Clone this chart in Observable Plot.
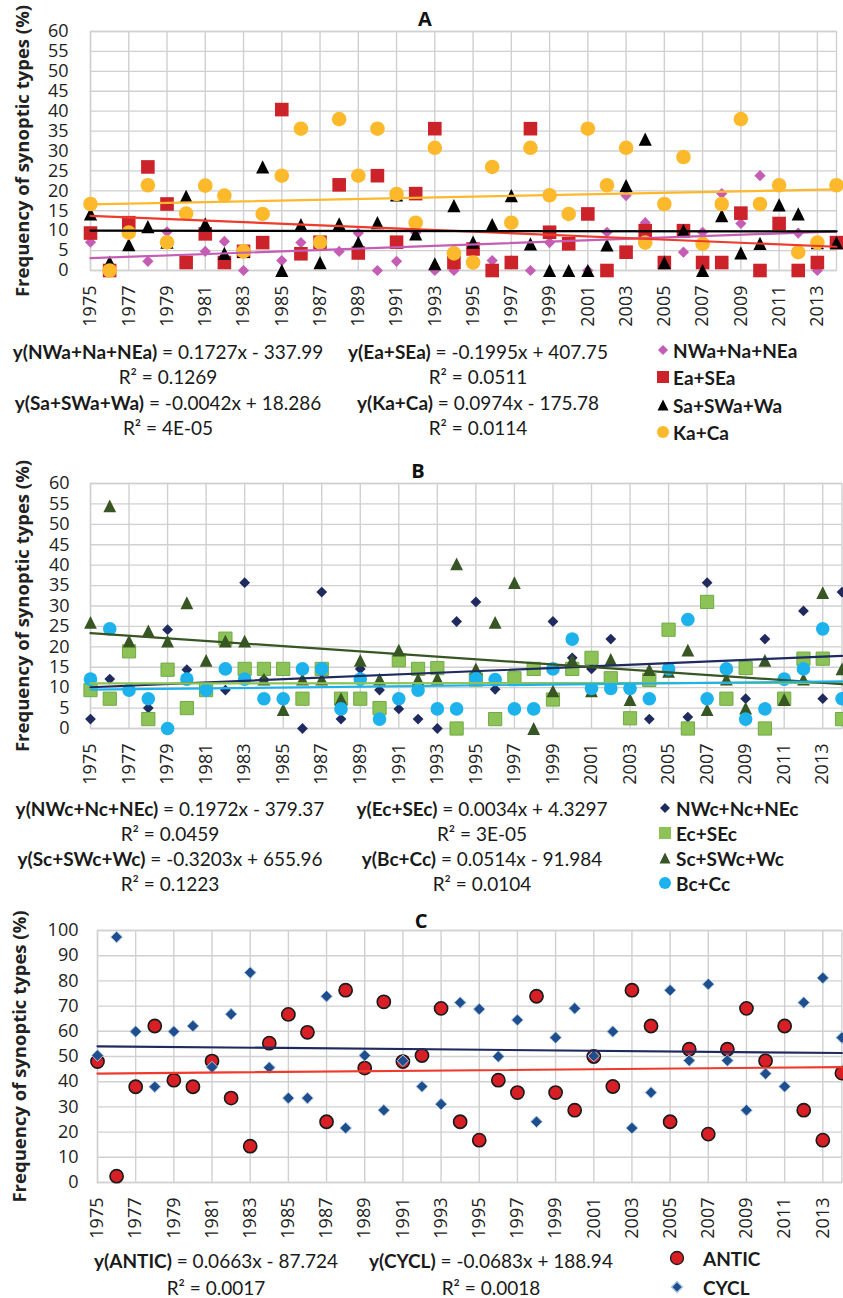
<!DOCTYPE html>
<html><head><meta charset="utf-8">
<script src="https://cdn.jsdelivr.net/npm/d3@7"></script>
<script src="https://cdn.jsdelivr.net/npm/@observablehq/plot@0.6"></script>
<style>
html,body{margin:0;padding:0;background:#fff;overflow:hidden;}
#fig{position:relative;width:843px;height:1298px;overflow:hidden;}
.abs{position:absolute;white-space:nowrap;}
.title{font-family:"Open Sans";font-weight:700;font-size:20px;color:#111;transform:translate(-50%,-50%);}
.eq{font-family:Lato;font-size:19px;color:#1a1a1a;transform:translate(-50%,-50%);}
.eq b{font-weight:700;}
.leg{font-family:Lato;font-weight:700;font-size:19px;color:#1a1a1a;transform:translateY(-50%);}
.sw{position:absolute;overflow:visible;}
</style></head><body><div id="fig"></div>
<script>
// ---------- categories & ticks ----------
const years = [1975,1976,1977,1978,1979,1980,1981,1982,1983,1984,1985,1986,1987,1988,1989,1990,1991,1992,1993,1994,1995,1996,1997,1998,1999,2000,2001,2002,2003,2004,2005,2006,2007,2008,2009,2010,2011,2012,2013,2014];
const xTicks = [1975,1977,1979,1981,1983,1985,1987,1989,1991,1993,1995,1997,1999,2001,2003,2005,2007,2009,2011,2013];
const yTicksAB = [0,5,10,15,20,25,30,35,40,45,50,55,60];
const yTicksC = [0,10,20,30,40,50,60,70,80,90,100];
const yLabel = "Frequency of synoptic types (%)";

// ---------- Panel A (anticyclonic types) ----------
const namesA = ["NWa+Na+NEa","Ea+SEa","Sa+SWa+Wa","Ka+Ca"];
const nwa = [7.1,0,9.5,2.3,9.7,2.4,4.8,7.3,0,7,2.5,7,7.1,4.8,9.4,0,2.3,9.5,0,0,2.4,2.5,2.4,0,7,7,0,9.6,18.8,12,2.4,4.6,9.6,19.3,11.8,23.8,12,9.4,0,7];
const ea  = [9.4,0,12,26,16.7,2,9.2,2,4.8,7,40.4,4.2,7.1,21.5,4.4,23.8,7.1,19.3,35.6,2,5.4,0,2,35.6,9.6,6.7,14.2,0,4.6,10,2,10,2,2,14.4,0,11.8,0,2,7];
const sa  = [14.2,2.1,6.5,11,7.1,18.6,11.7,4.3,4.8,26,0,11.5,2,11.7,7,12,19,9.2,1.7,16.3,7.1,11.5,18.8,6.7,0,0,0,6.4,21.3,33,2,10,0,13.8,4.4,6.8,16.5,14.2,7,7];
const ka  = [16.7,0,9.5,21.4,7.1,14.3,21.3,18.8,4.8,14.2,23.8,35.6,7.1,38,23.8,35.6,19.2,12,30.8,4.3,2,26,12,30.8,18.9,14.2,35.6,21.4,30.8,7,16.7,28.5,6.7,16.7,38,16.7,21.4,4.6,7,21.4];
const slopesA = [0.1727,-0.1995,-0.0042,0.0974];
const interceptsA = [-337.99,407.75,18.286,-175.78];
const r2A = ["0.1269","0.0511","4E-05","0.0114"];

// ---------- Panel B (cyclonic types) ----------
const namesB = ["NWc+Nc+NEc","Ec+SEc","Sc+SWc+Wc","Bc+Cc"];
const nwc = [2.3,12.1,9.5,5,24.2,14.4,9.5,9.4,35.7,12,7,0,33.4,2.3,14.6,9.4,4.8,2.3,0,26.2,31,9.6,12,4.8,26.2,17.3,14.6,21.9,2.5,2.3,24,2.8,35.7,14.5,7.3,21.9,12,28.8,7.3,33.4];
const ec  = [9.4,7.3,18.9,2.3,14.4,5,9.4,22,14.6,14.6,14.6,7.3,14.6,7.3,7.3,5,16.7,14.6,14.8,0,12,2.3,12.3,14.6,7.1,14.6,17.3,12.3,2.5,11.9,24.2,0,31,7.3,14.8,0,7.3,17.1,17.1,2.3];
const sc  = [26,54.5,21.4,23.9,21.4,30.8,16.7,21.4,21.4,12.1,4.6,12.1,12.1,7.3,16.7,12.1,19.2,12.1,12.3,40.3,14.6,26,35.7,0,9.2,16.7,9.2,16.9,7.1,14.4,14,19.2,4.6,12.1,5,16.7,7.1,12.1,33.3,14.6];
const bc  = [12.1,24.4,9.4,7.3,0,12.1,9.4,14.6,12.1,7.3,7.3,14.6,14.6,4.8,12.1,2.3,7.3,9.4,4.8,4.8,12.3,12,4.8,4.8,14.6,21.9,9.8,9.8,9.8,7.3,14.6,26.7,7.3,14.6,2.3,4.8,12.1,14.6,24.4,7.3];
const slopesB = [0.1972,0.0034,-0.3203,0.0514];
const interceptsB = [-379.37,4.3297,655.96,-91.984];
const r2B = ["0.0459","3E-05","0.1223","0.0104"];

// ---------- Panel C (anticyclonic vs cyclonic) ----------
const namesC = ["ANTIC","CYCL"];
const antic = [48,2.5,38,62.1,40.6,38,48.2,33.5,14.4,55.3,66.7,59.6,24.1,76.3,45.4,71.7,48,50.4,69.1,24.1,16.8,40.6,35.7,73.9,35.7,28.7,50,38.1,76.3,62.1,24.1,52.9,19.2,52.9,69.1,48.3,62.1,28.7,16.8,43.4];
const cycl  = [50.4,97.4,59.9,38,59.9,62.1,45.8,66.8,83.3,45.6,33.5,33.5,73.9,21.6,50.4,28.7,48.3,38.1,31.1,71.4,68.8,50,64.5,24.1,57.5,69.1,50.2,59.9,21.6,35.7,76.3,48.4,78.7,48.4,28.7,43.2,38.1,71.4,81.2,57.5];
const slopesC = [0.0663,-0.0683];
const interceptsC = [-87.724,188.94];
const r2C = ["0.0017","0.0018"];

// ---------- helpers ----------
const table = vals => years.map((year, i) => ({year, v: vals[i]}));
const symSquare = {draw(ctx, size){const h = Math.sqrt(size/Math.PI); ctx.rect(-h,-h,2*h,2*h);}};
const symDiamond = {draw(ctx, size){const h = Math.sqrt(size/Math.PI); ctx.moveTo(0,-h); ctx.lineTo(h,0); ctx.lineTo(0,h); ctx.lineTo(-h,0); ctx.closePath();}};
const symTriangle = {draw(ctx, size){const h = Math.sqrt(size/Math.PI); ctx.moveTo(0,-h); ctx.lineTo(h,h); ctx.lineTo(-h,h); ctx.closePath();}};
const trendX = [years[0], years[years.length-1]];
const gridStyle = {stroke:"#d0d0d0", strokeOpacity:1, strokeWidth:1.4};

function panel(o){
  const marks = [
    Plot.gridX(xTicks, gridStyle),
    Plot.gridY(o.yTicks, gridStyle),
    Plot.frame({stroke:"#d0d0d0", strokeWidth:1.4})
  ];
  o.series.forEach(s => {
    marks.push(Plot.dot(table(s.vals), {x:"year", y:"v", symbol:s.symbol, r:s.r, fill:s.fill, stroke:s.stroke || "none", strokeWidth:s.sw || 0}));
  });
  o.series.forEach((s, i) => {
    const m = o.slopes[i], b = o.intercepts[i];
    marks.push(Plot.line(trendX, {x:d => d, y:d => m*d + b, stroke:s.line, strokeWidth:2.2}));
  });
  marks.push(Plot.text([yLabel], {frameAnchor:"left", textAnchor:"middle", lineAnchor:"middle", dx:o.labelDx, rotate:-90, fontWeight:700, fontSize:18.5, fill:"#222", fontFamily:"Open Sans"}));
  const svg = Plot.plot({
    width:843, height:o.height,
    marginTop:o.mt, marginBottom:o.top + o.height - o.bottom, marginLeft:o.ml, marginRight:o.mr,
    x:{domain:trendX, ticks:xTicks, tickFormat:"d", tickRotate:-90, tickSize:0, tickPadding:o.xpad, label:null},
    y:{domain:o.yDomain, ticks:o.yTicks, tickSize:0, tickPadding:o.ypad, label:null},
    style:{fontFamily:"'Open Sans'", fontSize:"18px", color:"#222", background:"transparent", overflow:"visible"},
    marks
  });
  svg.style.position = "absolute";
  svg.style.left = "0px";
  svg.style.top = o.top + "px";
  return svg;
}

const fig = document.getElementById("fig");
function addDiv(cls, x, y, html){
  const d = document.createElement("div");
  d.className = "abs " + cls;
  d.style.left = x + "px"; d.style.top = y + "px";
  d.innerHTML = html;
  fig.appendChild(d);
}
function fmtEq(name, m, b){
  const sign = b < 0 ? " - " : " + ";
  return `<b>y(${name})</b> = ${m}x${sign}${Math.abs(b)}`;
}
function swatch(kind, color, x, y, size, stroke){
  const ns = "http://www.w3.org/2000/svg";
  const svg = document.createElementNS(ns, "svg");
  svg.setAttribute("class","sw");
  svg.setAttribute("width", 20); svg.setAttribute("height", 20);
  svg.style.left = (x - 10) + "px"; svg.style.top = (y - 10) + "px";
  const h = size/2;
  let el;
  if (kind === "circle") { el = document.createElementNS(ns,"circle"); el.setAttribute("cx",10); el.setAttribute("cy",10); el.setAttribute("r",h); }
  else { el = document.createElementNS(ns,"path");
    const d = kind === "square" ? `M${10-h},${10-h}h${2*h}v${2*h}h${-2*h}Z`
      : kind === "diamond" ? `M10,${10-h}L${10+h},10L10,${10+h}L${10-h},10Z`
      : `M10,${10-h}L${10+h},${10+h}L${10-h},${10+h}Z`;
    el.setAttribute("d", d); }
  el.setAttribute("fill", color);
  if (stroke) { el.setAttribute("stroke", stroke); el.setAttribute("stroke-width", 1.3); }
  svg.appendChild(el);
  fig.appendChild(svg);
}

// ---------- Panel A ----------
const colA = {pink:"#C55DB5", red:"#CC2229", black:"#000000", gold:"#FDB92C"};
fig.appendChild(panel({
  top:0, height:330, mt:31, bottom:270, ml:90, mr:7, xpad:15, ypad:22, labelDx:-67,
  yDomain:[0,60], yTicks:yTicksAB, slopes:slopesA, intercepts:interceptsA,
  series:[
    {vals:nwa, symbol:symDiamond, r:5.6, fill:colA.pink, line:colA.pink},
    {vals:ea, symbol:symSquare, r:6.8, fill:colA.red, line:"#EE3B2B"},
    {vals:sa, symbol:symTriangle, r:6.6, fill:colA.black, line:"#000000"},
    {vals:ka, symbol:"circle", r:7.3, fill:colA.gold, line:colA.gold}
  ]
}));
addDiv("title", 425, 18, "A");
[[0,168,351],[1,478,351],[2,168,402],[3,478,402]].forEach(([i,x,y]) => {
  addDiv("eq", x, y, fmtEq(namesA[i], slopesA[i], interceptsA[i]));
  addDiv("eq", x, y+25, `R² = ${r2A[i]}`);
});
swatch("diamond", colA.pink, 663, 350, 10);
swatch("square", colA.red, 663, 377, 12);
swatch("triangle", colA.black, 663, 405, 11);
swatch("circle", colA.gold, 663, 432, 12);
[350,377,405,432].forEach((y,i) => addDiv("leg", 673, y, namesA[i]));

// ---------- Panel B ----------
const colB = {navy:"#1F2A5E", green:"#8DC356", dgreen:"#375623", cyan:"#1DB2EC"};
fig.appendChild(panel({
  top:440, height:350, mt:43, bottom:728, ml:90, mr:1.5, xpad:15, ypad:21, labelDx:-67,
  yDomain:[0,60], yTicks:yTicksAB, slopes:slopesB, intercepts:interceptsB,
  series:[
    {vals:nwc, symbol:symDiamond, r:5.4, fill:colB.navy, line:colB.navy},
    {vals:ec, symbol:symSquare, r:6.6, fill:colB.green, stroke:"#6FAA45", sw:1, line:colB.green},
    {vals:sc, symbol:symTriangle, r:6.4, fill:colB.dgreen, line:colB.dgreen},
    {vals:bc, symbol:"circle", r:6.8, fill:colB.cyan, line:colB.cyan}
  ]
}));
addDiv("title", 418, 470, "B");
[[0,170,808],[1,482,808],[2,170,858],[3,482,858]].forEach(([i,x,y]) => {
  addDiv("eq", x, y, fmtEq(namesB[i], slopesB[i], interceptsB[i]));
  addDiv("eq", x, y+25, `R² = ${r2B[i]}`);
});
swatch("diamond", colB.navy, 665, 808, 10);
swatch("square", colB.green, 665, 833, 12);
swatch("triangle", colB.dgreen, 665, 858, 11);
swatch("circle", colB.cyan, 665, 883, 12);
[808,833,858,883].forEach((y,i) => addDiv("leg", 676, y, namesB[i]));

// ---------- Panel C ----------
const colC = {red:"#D81F26", blue:"#1F4E8C"};
fig.appendChild(panel({
  top:890, height:355, mt:40, bottom:1182, ml:97, mr:1.6, xpad:15, ypad:19, labelDx:-77,
  yDomain:[0,100], yTicks:yTicksC, slopes:slopesC, intercepts:interceptsC,
  series:[
    {vals:antic, symbol:"circle", r:6.6, fill:colC.red, stroke:"#1a1a1a", sw:1.6, line:"#EE3B2B"},
    {vals:cycl, symbol:symDiamond, r:5.8, fill:colC.blue, stroke:"#A8C4E6", sw:1, line:"#1F2A5E"}
  ]
}));
addDiv("title", 421, 920, "C");
[[0,216,1260],[1,491,1260]].forEach(([i,x,y]) => {
  addDiv("eq", x, y, fmtEq(namesC[i], slopesC[i], interceptsC[i]));
  addDiv("eq", x, y+27, `R² = ${r2C[i]}`);
});
swatch("circle", colC.red, 677, 1258, 13, "#1a1a1a");
swatch("diamond", colC.blue, 677, 1287, 11, "#A8C4E6");
[1258,1287].forEach((y,i) => addDiv("leg", 703, y, namesC[i]));
</script></body></html>
